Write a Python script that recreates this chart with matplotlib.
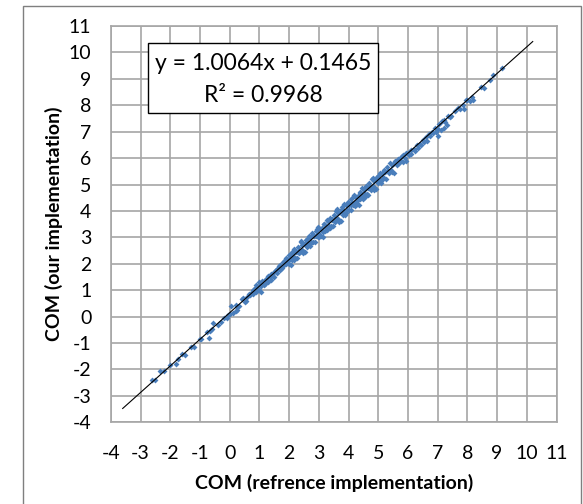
import matplotlib
matplotlib.use("Agg")
import matplotlib.pyplot as plt
from matplotlib.patches import Rectangle

plt.rcParams['font.family'] = ['Lato', 'DejaVu Sans']
plt.rcParams['axes.unicode_minus'] = False

# ---- data ----
x_low = [-2.6, -2.5, -2.35, -2.2, -2.0, -1.8, -1.75, -1.6, -1.5, -1.3, -1.2, -1.0, -0.95,
         -0.75, -0.7, -0.65, -0.6, -0.55, -0.4, -0.3, -0.2, -0.1, -0.05, 0.0, 0.05, 0.1,
         0.2, 0.2, 0.25, 0.25, 0.3, 0.4, 0.45, 0.5, 0.55, 0.6]
y_low = [-2.4, -2.4, -2.05, -2.05, -1.85, -1.8, -1.6, -1.4, -1.45, -1.15, -1.15, -0.85, -0.85,
         -0.6, -0.8, -0.55, -0.45, -0.25, -0.3, -0.2, -0.05, -0.05, 0.05, 0.1, 0.4, 0.15,
         0.2, 0.45, 0.25, 0.35, 0.4, 0.65, 0.7, 0.55, 0.6, 0.75]

x_mid = [0.65, 0.7, 0.75, 0.8, 0.8, 0.85, 0.9, 0.9, 0.95, 1.0, 1.0, 1.05, 1.05, 1.1, 1.1,
         1.15, 1.2, 1.2, 1.25, 1.3, 1.3, 1.35, 1.4, 1.4, 1.45, 1.5, 1.5, 1.55, 1.6, 1.6,
         1.65, 1.7, 1.7, 1.75, 1.8, 1.8, 1.85, 1.9, 1.9, 1.95, 2.0, 2.0, 2.05, 2.05, 2.1, 2.1]
y_mid = [0.85, 0.8, 0.95, 0.85, 1.0, 1.1, 0.95, 1.2, 1.05, 1.3, 1.0, 1.15, 0.95, 1.25, 1.35,
         1.2, 1.4, 1.25, 1.45, 1.3, 1.55, 1.5, 1.4, 1.6, 1.55, 1.7, 1.5, 1.75, 1.65, 1.8,
         1.9, 1.75, 1.95, 1.85, 2.05, 1.9, 2.15, 2.0, 2.2, 2.1, 2.35, 2.0, 2.25, 1.95, 2.4, 2.15]

x_dense_a = [2.12, 2.15, 2.18, 2.21, 2.24, 2.27, 2.30, 2.33, 2.36, 2.39, 2.42, 2.45, 2.48, 2.51,
             2.54, 2.57, 2.60, 2.63, 2.66, 2.69, 2.72, 2.75, 2.78, 2.81, 2.84, 2.87, 2.90, 2.93,
             2.96, 2.99, 3.02, 3.05, 3.08, 3.11, 3.14, 3.17, 3.20, 3.23, 3.26, 3.29, 3.32, 3.35,
             3.38, 3.41, 3.44, 3.47, 3.50, 3.53, 3.56, 3.59, 3.62, 3.65, 3.68, 3.71, 3.74, 3.77,
             3.80, 3.83, 3.86, 3.89, 3.92, 3.95, 3.98, 4.01, 4.04, 4.07, 4.10, 4.13, 4.16, 4.19,
             4.22, 4.25, 4.28, 4.31, 4.34, 4.37, 4.40, 4.43, 4.46, 4.49, 4.52, 4.55, 4.58, 4.61,
             4.64, 4.67, 4.70, 4.73, 4.76, 4.79, 4.82, 4.85, 4.88, 4.91, 4.94, 4.97, 5.00, 5.03,
             5.06, 5.09, 5.12, 5.15, 5.18, 5.21, 5.24, 5.27, 5.30, 5.33, 5.36, 5.39, 5.42, 5.45,
             5.48, 5.51, 5.54, 5.57]
y_dense_a = [2.41, 2.24, 2.55, 2.23, 2.46, 2.22, 2.65, 2.50, 2.43, 2.81, 2.54, 2.72, 2.47, 2.76,
             2.43, 2.89, 2.65, 2.82, 3.05, 2.66, 3.01, 2.84, 3.15, 2.83, 3.06, 2.82, 3.25, 3.10,
             3.03, 3.41, 3.14, 3.32, 3.07, 3.36, 3.03, 3.49, 3.25, 3.42, 3.65, 3.26, 3.61, 3.44,
             3.75, 3.43, 3.66, 3.42, 3.85, 3.70, 3.63, 4.01, 3.74, 3.92, 3.67, 3.96, 3.63, 4.09,
             3.85, 4.02, 4.25, 3.86, 4.21, 4.04, 4.35, 4.03, 4.26, 4.02, 4.45, 4.30, 4.23, 4.61,
             4.34, 4.52, 4.27, 4.56, 4.23, 4.69, 4.45, 4.62, 4.85, 4.46, 4.81, 4.64, 4.95, 4.63,
             4.86, 4.62, 5.05, 4.90, 4.83, 5.21, 4.94, 5.12, 4.87, 5.16, 4.83, 5.29, 5.05, 5.22,
             5.45, 5.06, 5.41, 5.24, 5.55, 5.23, 5.46, 5.22, 5.65, 5.50, 5.43, 5.81, 5.54, 5.72,
             5.47, 5.76, 5.43, 5.89]

x_dense_b = [2.05, 2.11, 2.17, 2.23, 2.29, 2.35, 2.41, 2.47, 2.53, 2.59, 2.65, 2.71, 2.77, 2.83,
             2.89, 2.95, 3.01, 3.07, 3.13, 3.19, 3.25, 3.31, 3.37, 3.43, 3.49, 3.55, 3.61, 3.67,
             3.73, 3.79, 3.85, 3.91, 3.97, 4.03, 4.09, 4.15, 4.21, 4.27, 4.33, 4.39, 4.45, 4.51,
             4.57, 4.63, 4.69, 4.75, 4.81, 4.87, 4.93, 4.99, 5.05, 5.11, 5.17]
y_dense_b = [2.17, 2.43, 2.14, 2.50, 2.46, 2.40, 2.86, 2.39, 2.76, 2.94, 2.74, 2.73, 3.06, 3.04,
             3.04, 3.32, 3.00, 3.33, 3.20, 3.50, 3.37, 3.63, 3.34, 3.70, 3.66, 3.60, 4.06, 3.59,
             3.96, 4.14, 3.94, 3.93, 4.26, 4.24, 4.24, 4.52, 4.20, 4.53, 4.40, 4.70, 4.57, 4.83,
             4.54, 4.90, 4.86, 4.80, 5.26, 4.79, 5.16, 5.34, 5.14, 5.13, 5.46]

x_upper = [5.62, 5.65, 5.7, 5.75, 5.78, 5.82, 5.85, 5.9, 5.92, 5.95, 6.0, 6.05, 6.1, 6.12, 6.2,
           6.25, 6.3, 6.35, 6.4, 6.45, 6.5, 6.55, 6.6, 6.65, 6.7, 6.75, 6.8, 6.85, 6.9, 6.95,
           7.0, 7.0, 7.05, 7.1, 7.15, 7.2, 7.2, 7.25, 7.3, 7.35, 7.4, 7.45]
y_upper = [5.72, 5.95, 5.8, 5.9, 6.05, 5.85, 6.1, 6.0, 6.2, 5.9, 6.2, 6.1, 6.3, 6.15, 6.35,
           6.25, 6.5, 6.4, 6.55, 6.5, 6.7, 6.6, 6.8, 6.65, 6.9, 6.85, 7.0, 6.95, 7.15, 7.0,
           7.1, 6.85, 7.3, 7.05, 7.4, 7.45, 7.15, 7.35, 7.25, 7.6, 7.55, 7.6]

x_top = [7.6, 7.7, 7.75, 7.85, 7.9, 7.95, 8.0, 8.1, 8.15, 8.2, 8.45, 8.55, 8.75, 8.85, 9.15]
y_top = [7.8, 7.9, 7.85, 8.0, 7.85, 8.2, 8.2, 8.15, 8.3, 8.2, 8.7, 8.65, 8.95, 9.15, 9.4]

trend_slope = 1.0064
trend_intercept = 0.1465
trend_x_range = [-3.6, 10.2]
equation_line1 = "y = 1.0064x + 0.1465"
equation_line2 = "R² = 0.9968"

axis_ticks = list(range(-4, 12))
x_title = "COM (refrence implementation)"
y_title = "COM (our implementation)"

# ---- figure ----
W, H = 583, 504
fig = plt.figure(figsize=(W / 100, H / 100), dpi=100)
ax = fig.add_axes([110.8 / W, 1 - 422.3 / H, (556.5 - 110.8) / W, (422.3 - 26) / H])

grid_c = '#a6a6a6'
xs = x_low + x_mid + x_dense_a + x_dense_b + x_upper + x_top
ys = y_low + y_mid + y_dense_a + y_dense_b + y_upper + y_top
ax.plot(xs, ys, linestyle='none', marker='D', markersize=3.0,
        color='#4a7ebb', markeredgewidth=0, zorder=3)

ty = [trend_slope * v + trend_intercept for v in trend_x_range]
ax.plot(trend_x_range, ty, color='black', lw=0.8, zorder=4)

ax.set_xlim(-4, 11)
ax.set_ylim(-4, 11)
ax.set_xticks(axis_ticks)
ax.set_yticks(axis_ticks)
ax.grid(True, color=grid_c, lw=1.2)
ax.set_axisbelow(True)
for s in ax.spines.values():
    s.set_color(grid_c)
    s.set_linewidth(1.2)
ax.tick_params(length=0, labelsize=14, colors='black')
ax.tick_params(axis='y', pad=14)
ax.tick_params(axis='x', pad=16)

ax.set_xlabel(x_title, fontsize=14, fontweight='bold', labelpad=9)
ax.set_ylabel(y_title, fontsize=14, fontweight='bold', labelpad=4)

# equation box (axes-fraction placement)
ax.add_patch(Rectangle((0.0826, 0.7812), 0.6004 - 0.0826, 0.9563 - 0.7812,
                       transform=ax.transAxes, facecolor='white', edgecolor='black',
                       lw=1.0, zorder=5))
ax.text(0.3415, 0.9066, equation_line1, transform=ax.transAxes, ha='center', va='center',
        fontsize=16.5, zorder=6)
ax.text(0.3415, 0.8234, equation_line2, transform=ax.transAxes, ha='center', va='center',
        fontsize=16.5, zorder=6)

fig.patches.append(Rectangle((23 / W, -0.02), (580.5 - 23) / W, 1.02 - 6 / H,
                             transform=fig.transFigure, fill=False, edgecolor='#7f7f7f', lw=1.0))

fig.savefig('out.png', dpi=100)
